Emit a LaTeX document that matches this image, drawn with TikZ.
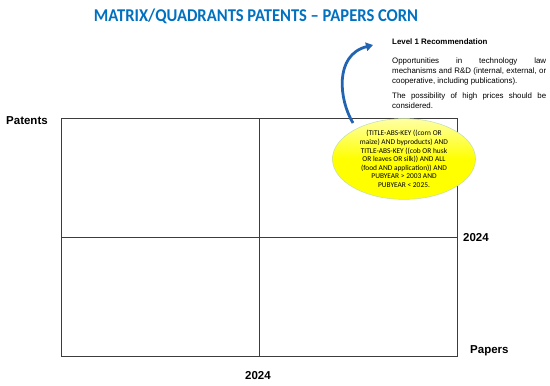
\documentclass[tikz,border=0pt]{standalone}
\usepackage{fontspec}
\usepackage{graphicx}
\setmainfont{Liberation Sans}
\newfontfamily\calibri{Carlito}
\usetikzlibrary{arrows.meta,shapes.geometric}
\definecolor{titleblue}{RGB}{0,112,192}
\definecolor{arrowblue}{RGB}{35,100,178}
\definecolor{gridgray}{RGB}{60,60,60}
\definecolor{ellborder}{RGB}{200,225,170}
\begin{document}
\begin{tikzpicture}[x=1pt,y=-1pt,
  axislabel/.style={font=\fontsize{11.5}{13}\selectfont\bfseries, inner sep=0pt},
  gridline/.style={draw=gridgray, line width=0.9pt}]
\useasboundingbox (0,0) rectangle (550,386);
% title
\node[font=\calibri\fontsize{18}{20}\selectfont\bfseries, text=titleblue, inner sep=0pt] (title) at (256,16) {\scalebox{0.92}[1]{MATRIX/QUADRANTS PATENTS – PAPERS CORN}};
% quadrant grid
\coordinate (tl) at (61,118);
\coordinate (br) at (457,356);
\draw[gridline] (tl) rectangle (br);
\draw[gridline] (61,237) -- (457,237);
\draw[gridline] (259,118) -- (259,356);
% axis labels
\node[axislabel, anchor=west] (patents) at (6,121) {Patents};
\node[axislabel, anchor=west] (y2024) at (463,238) {2024};
\node[axislabel, anchor=west] (papers) at (470,351) {Papers};
\node[axislabel] (x2024) at (258,376) {2024};
% recommendation text
\node[anchor=north west, text width=154pt, align=justify, inner sep=0pt,
  font=\fontsize{7.9}{10}\selectfont] (rec) at (392,39)
  {\hyphenpenalty=10000\textbf{Level 1 Recommendation}\par\vspace{8.5pt}
   Opportunities in technology law\linebreak mechanisms and R\&D (internal, external, or\linebreak cooperative, including publications).\par\vspace{5.5pt}
   The possibility of high prices should be\linebreak considered.};
% ellipse
\node[ellipse, minimum width=143pt, minimum height=72pt, inner sep=0pt,
  draw=ellborder, line width=0.6pt, top color=yellow!35, bottom color=yellow, middle color=yellow,
  font=\calibri\fontsize{7.4}{8.6}\selectfont, align=center] (query) at (404,159)
  {(TITLE-ABS-KEY ((corn OR\\ maize) AND byproducts) AND\\ TITLE-ABS-KEY ((cob OR husk\\ OR leaves OR silk)) AND ALL\\ (food AND application)) AND\\ PUBYEAR > 2003 AND\\ PUBYEAR < 2025.};
% curved arrow
\coordinate (tail) at (353,123);
\coordinate (head) at (373,45);
\draw[arrowblue, line width=2.8pt, -{Triangle[length=7pt, width=8.5pt]}] (tail) .. controls (339,100) and (334,55) .. (head);
\end{tikzpicture}
\end{document}
